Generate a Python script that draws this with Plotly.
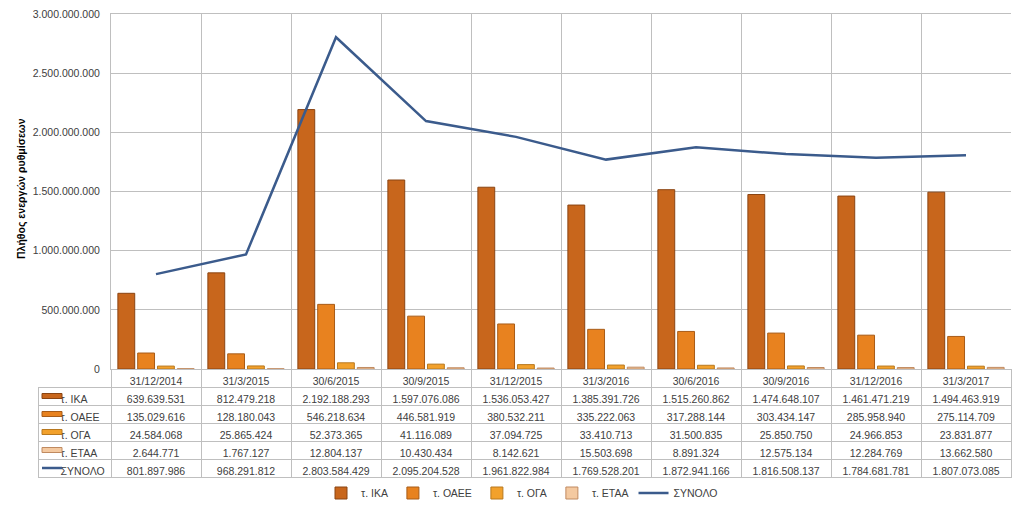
import plotly.graph_objects as go

categories = ["31/12/2014", "31/3/2015", "30/6/2015", "30/9/2015", "31/12/2015",
              "31/3/2016", "30/6/2016", "30/9/2016", "31/12/2016", "31/3/2017"]
ika = [639639531, 812479218, 2192188293, 1597076086, 1536053427,
       1385391726, 1515260862, 1474648107, 1461471219, 1494463919]
oaee = [135029616, 128180043, 546218634, 446581919, 380532211,
        335222063, 317288144, 303434147, 285958940, 275114709]
oga = [24584068, 25865424, 52373365, 41116089, 37094725,
       33410713, 31500835, 25850750, 24966853, 23831877]
etaa = [2644771, 1767127, 12804137, 10430434, 8142621,
        15503698, 8891324, 12575134, 12284769, 13662580]
synolo = [801897986, 968291812, 2803584429, 2095204528, 1961822984,
          1769528201, 1872941166, 1816508137, 1784681781, 1807073085]

series_names = ["τ. ΙΚΑ", "τ. ΟΑΕΕ", "τ. ΟΓΑ", "τ. ΕΤΑΑ"]
series_vals = [ika, oaee, oga, etaa]
bar_colors = ["#c8661c", "#e8821f", "#f2a12c", "#f4c9a0"]
bar_lines = ["#8a4412", "#a85c18", "#b8781e", "#c08a60"]
line_color = "#3b5b8c"

# the page body adds an 8px margin, so work in page pixels shifted by 8
OFF = 8
W, H = 1024 - 2 * OFF, 512 - 2 * OFF
px_l, px_r, px_t, px_b = 111, 1011, 14, 369
row_h = 18
tbl_l = 38
FS = 10.5


def fx(p):
    return (p - OFF) / W


def fy(p):
    return 1 - (p - OFF) / H


fig = go.Figure()
for name, vals, c, lc in zip(series_names, series_vals, bar_colors, bar_lines):
    fig.add_trace(go.Bar(x=categories, y=vals, name=name,
                         marker=dict(color=c, line=dict(color=lc, width=1))))
fig.add_trace(go.Scatter(x=categories, y=synolo, name="ΣΥΝΟΛΟ", mode="lines",
                         line=dict(color=line_color, width=2.5)))


def fmt(v):
    return f"{v:,}".replace(",", ".")


pad = "\u00a0" * 5
row_names = series_names + ["ΣΥΝΟΛΟ"]
row_labels = [pad + n.replace(" ", "\u00a0") for n in row_names]
rows = series_vals + [synolo]
columns = [row_labels] + [[fmt(r[i]) for r in rows] for i in range(len(categories))]

tfont = dict(family="Liberation Sans, Arial", size=FS, color="#404040")
ncol = len(categories)
fig.add_trace(go.Table(
    domain=dict(x=[fx(tbl_l), fx(px_r)], y=[0, fy(px_b)]),
    columnwidth=[px_l - tbl_l] + [90] * ncol,
    header=dict(values=[""] + categories, height=row_h,
                line=dict(color=["rgba(0,0,0,0)"] + ["#bfbfbf"] * ncol, width=1),
                fill=dict(color=["rgba(0,0,0,0)"] + ["white"] * ncol),
                align="center", font=tfont),
    cells=dict(values=columns, height=row_h,
               line=dict(color="#bfbfbf", width=1), fill=dict(color="white"),
               align=["left"] + ["center"] * ncol, font=tfont),
))

# legend keys inside the table's first column
shapes = []
for i, name in enumerate(row_names):
    yc = px_b + row_h * (i + 1) + row_h / 2
    if i < 4:
        shapes.append(dict(type="rect", xref="paper", yref="paper", layer="above",
                           x0=fx(42), x1=fx(62), y0=fy(yc + 2.5), y1=fy(yc - 2.5),
                           fillcolor=bar_colors[i], line=dict(color=bar_lines[i], width=1)))
    else:
        shapes.append(dict(type="line", xref="paper", yref="paper", layer="above",
                           x0=fx(42), x1=fx(62), y0=fy(yc), y1=fy(yc),
                           line=dict(color=line_color, width=2.5)))

fig.update_layout(
    width=W, height=H,
    margin=dict(l=0, r=0, t=0, b=0, autoexpand=False),
    paper_bgcolor="white", plot_bgcolor="white",
    separators=",.",
    barmode="group", bargap=0.12, bargroupgap=0.15,
    font=dict(family="Liberation Sans, Arial", size=FS, color="#404040"),
    xaxis=dict(domain=[fx(px_l), fx(px_r)], type="category", tickson="boundaries",
               showticklabels=False, showgrid=True, gridcolor="#bfbfbf", gridwidth=1,
               showline=True, linecolor="#bfbfbf", mirror=True, ticks="", automargin=False),
    yaxis=dict(domain=[fy(px_b), fy(px_t)], range=[0, 3e9], dtick=5e8, tickformat=",d",
               showgrid=True, gridcolor="#bfbfbf", gridwidth=1, zeroline=False,
               showline=True, linecolor="#bfbfbf", ticks="", automargin=False,
               ticklabeloverflow="allow", ticklabelstandoff=8,
               tickfont=dict(size=FS, color="#404040")),
    showlegend=True,
    legend=dict(orientation="h", x=fx(522), xanchor="center", y=fy(493), yanchor="middle",
                font=dict(size=FS, color="#404040"), traceorder="normal"),
    shapes=shapes,
    annotations=[dict(text="<b>Πλήθος ενεργών ρυθμίσεων</b>", textangle=-90,
                      x=fx(21), y=fy(189), xref="paper", yref="paper",
                      xanchor="center", yanchor="middle", showarrow=False,
                      font=dict(size=FS, color="#000000"))],
)

fig.write_html("out.html")
